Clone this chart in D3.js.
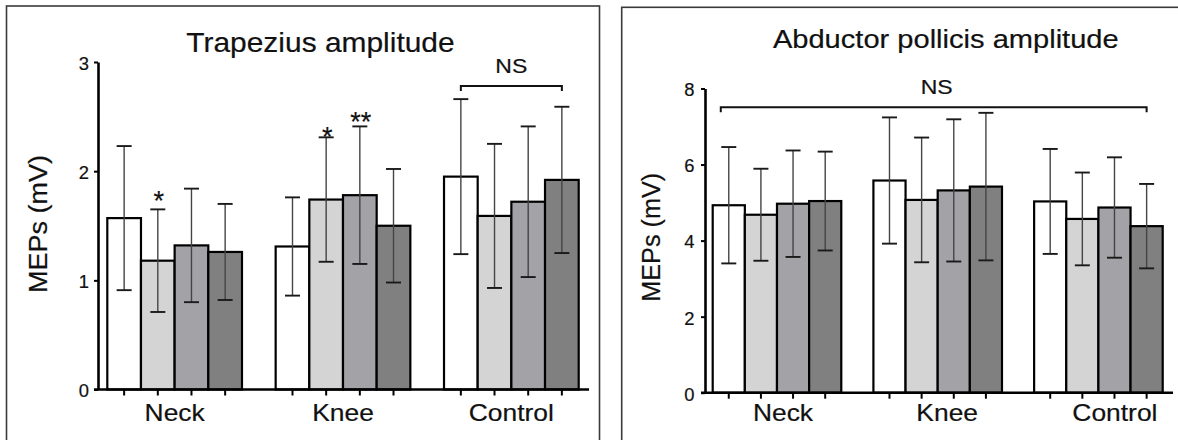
<!DOCTYPE html>
<html>
<head>
<meta charset="utf-8">
<script src="https://cdn.jsdelivr.net/npm/d3@7"></script>
<style>
  html, body { margin: 0; padding: 0; background: #fff; }
  svg { display: block; font-family: "Liberation Sans", Arial, Helvetica, sans-serif; }
  svg text { stroke: #111; stroke-width: 0.2px; }
</style>
</head>
<body>
<svg id="chart" width="1178" height="440"></svg>
<script>
// ---- data ----
const groups = ["Neck", "Knee", "Control"];
const conditionFills = ["#ffffff", "#d4d4d4", "#a3a2a7", "#808080"];

// Trapezius MEP amplitude (mV): mean and SD per group x condition
const trapMean = [
  [1.57, 1.18, 1.32, 1.26],
  [1.31, 1.74, 1.78, 1.50],
  [1.95, 1.59, 1.72, 1.92]
];
const trapSD = [
  [0.66, 0.47, 0.52, 0.44],
  [0.45, 0.57, 0.63, 0.52],
  [0.71, 0.66, 0.69, 0.67]
];
const trapTicks = [0, 1, 2, 3];

// Abductor pollicis MEP amplitude (mV)
const abdMean = [
  [4.93, 4.68, 4.97, 5.04],
  [5.58, 5.07, 5.32, 5.42],
  [5.03, 4.57, 4.87, 4.38]
];
const abdSD = [
  [1.53, 1.21, 1.40, 1.30],
  [1.66, 1.64, 1.87, 1.94],
  [1.38, 1.22, 1.32, 1.11]
];
const abdTicks = [0, 2, 4, 6, 8];

// significance marks: group, condition, text, height (mV) of mark centre
const trapStars = [
  { g: 0, c: 1, text: "*",  at: 1.78 },
  { g: 1, c: 1, text: "*",  at: 2.37 },
  { g: 1, c: 2, text: "**", at: 2.505 }
];
const abdStars = [];

// "NS" brackets: from [group, condition] to [group, condition] at a height (mV)
const trapBracket = { from: [2, 0], to: [2, 3], at: 2.78, inset: 0 };
const abdBracket  = { from: [0, 0], to: [2, 3], at: 7.51, inset: -8 };

// ---- drawing ----
const svg = d3.select("#chart");

function stretch(sel, k) {
  sel.each(function () {
    const n = this.getComputedTextLength();
    d3.select(this).attr("textLength", n * k).attr("lengthAdjust", "spacingAndGlyphs");
  });
}

function drawPanel(o) {
  const g = svg.append("g");

  // frame
  g.append("rect")
    .attr("x", o.frame[0]).attr("y", o.frame[1])
    .attr("width", o.frame[2]).attr("height", o.frame[3])
    .attr("fill", "none").attr("stroke", "#3a3a3a").attr("stroke-width", 1.6);

  const y = d3.scaleLinear().domain([0, o.ticks[o.ticks.length - 1]]).range([o.y0, o.yTop]);
  const x = d3.scaleBand().domain(groups).range([o.barStart, o.barEnd]).paddingInner(0.2).paddingOuter(0);
  const xc = d3.scaleBand().domain(d3.range(4)).range([0, x.bandwidth()]);
  const barCenter = (gi, ci) => x(groups[gi]) + xc(ci) + xc.bandwidth() / 2;

  const rows = [];
  o.means.forEach((row, gi) => row.forEach((m, ci) => rows.push({ gi, ci, m, sd: o.sds[gi][ci] })));

  // bars
  g.append("g").selectAll("rect").data(rows).join("rect")
    .attr("x", d => x(groups[d.gi]) + xc(d.ci))
    .attr("width", xc.bandwidth())
    .attr("y", d => y(d.m))
    .attr("height", d => y(0) - y(d.m))
    .attr("fill", d => conditionFills[d.ci])
    .attr("stroke", "#000").attr("stroke-width", 2.2);

  // error bars (mean ± SD)
  const eb = g.append("g").selectAll("g").data(rows).join("g");
  eb.append("line")
    .attr("x1", d => barCenter(d.gi, d.ci)).attr("x2", d => barCenter(d.gi, d.ci))
    .attr("y1", d => y(d.m - d.sd)).attr("y2", d => y(d.m + d.sd))
    .attr("stroke", "#444").attr("stroke-width", 1.4);
  [-1, 1].forEach(s => {
    eb.append("line")
      .attr("x1", d => barCenter(d.gi, d.ci) - o.cap).attr("x2", d => barCenter(d.gi, d.ci) + o.cap)
      .attr("y1", d => y(d.m + s * d.sd)).attr("y2", d => y(d.m + s * d.sd))
      .attr("stroke", "#1a1a1a").attr("stroke-width", 1.9);
  });

  // y axis
  const ya = g.append("g").attr("transform", `translate(${o.axisX},0)`)
    .call(d3.axisLeft(y).tickValues(o.ticks).tickFormat(d3.format("d"))
      .tickSize(4).tickSizeOuter(0).tickPadding(o.tickPad));
  ya.attr("font-family", null).attr("font-size", null);
  ya.select(".domain").attr("stroke", "#000").attr("stroke-width", 2.6);
  ya.selectAll(".tick line").attr("stroke", "#000").attr("stroke-width", 2);
  ya.selectAll(".tick text").style("font-size", "17.5px").attr("fill", "#111").attr("dy", "0.42em");
  stretch(ya.selectAll(".tick text"), 1.05);

  // x axis: baseline with a tick under every bar
  g.append("line")
    .attr("x1", o.axisX - 4).attr("x2", o.axisEnd)
    .attr("y1", y(0)).attr("y2", y(0))
    .attr("stroke", "#000").attr("stroke-width", 2.6);
  g.append("g").selectAll("line").data(rows).join("line")
    .attr("x1", d => barCenter(d.gi, d.ci)).attr("x2", d => barCenter(d.gi, d.ci))
    .attr("y1", y(0)).attr("y2", y(0) + 6)
    .attr("stroke", "#000").attr("stroke-width", 2);

  // group labels
  const gl = g.append("g").selectAll("text").data(groups).join("text")
    .attr("x", (d, i) => x(d) + x.bandwidth() / 2 + o.labelShift[i])
    .attr("y", 420.5)
    .attr("text-anchor", "middle").style("font-size", "24px").attr("fill", "#111")
    .text(d => d);
  stretch(gl, 1.1);

  // y label
  const yl = g.append("text")
    .attr("transform", `translate(${o.ylabX},${o.ylabY}) rotate(-90)`)
    .attr("text-anchor", "middle").style("font-size", "25px").attr("fill", "#111")
    .text("MEPs (mV)");
  stretch(yl, o.ylabK);

  // title
  const t = g.append("text")
    .attr("x", o.titleX).attr("y", o.titleY)
    .attr("text-anchor", "middle").style("font-size", o.titleSize + "px").attr("fill", "#111")
    .text(o.title);
  stretch(t, o.titleK);

  // significance marks
  g.append("g").selectAll("text").data(o.stars).join("text")
    .attr("x", d => barCenter(d.g, d.c) + 1)
    .attr("y", d => y(d.at) + 15)
    .attr("text-anchor", "middle").style("font-size", "27px").attr("fill", "#111")
    .text(d => d.text);

  // NS bracket
  const b = o.bracket;
  const bx1 = barCenter(b.from[0], b.from[1]) + b.inset;
  const bx2 = barCenter(b.to[0], b.to[1]);
  const by = y(b.at);
  g.append("path")
    .attr("d", `M${bx1},${by + 5}V${by}H${bx2}V${by + 5}`)
    .attr("fill", "none").attr("stroke", "#111").attr("stroke-width", 2);
  const ns = g.append("text")
    .attr("x", (bx1 + bx2) / 2 + o.nsShift).attr("y", by - 13)
    .attr("text-anchor", "middle").style("font-size", "20px").attr("fill", "#111")
    .text("NS");
  stretch(ns, 1.15);
}

drawPanel({
  frame: [6.5, 6, 593, 460],
  y0: 389.5, yTop: 62, ticks: trapTicks,
  barStart: 107.3, barEnd: 578.7, axisX: 98, axisEnd: 589,
  cap: 7.5, tickPad: 5,
  means: trapMean, sds: trapSD, stars: trapStars, bracket: trapBracket, nsShift: 0,
  labelShift: [0, 0, 0],
  title: "Trapezius amplitude", titleX: 320.5, titleY: 51.5, titleSize: 28.5, titleK: 1.05,
  ylabX: 46.5, ylabY: 224, ylabK: 1.08
});

drawPanel({
  frame: [621.7, 7.3, 600, 460],
  y0: 392.7, yTop: 88.5, ticks: abdTicks,
  barStart: 712.7, barEnd: 1162.7, axisX: 705, axisEnd: 1173,
  cap: 7.5, tickPad: 6.5,
  means: abdMean, sds: abdSD, stars: abdStars, bracket: abdBracket, nsShift: 3,
  labelShift: [6, 9.5, 16.5],
  title: "Abductor pollicis amplitude", titleX: 945.8, titleY: 48.3, titleSize: 25.5, titleK: 1.14,
  ylabX: 660, ylabY: 237.3, ylabK: 1.01
});
</script>
</body>
</html>
